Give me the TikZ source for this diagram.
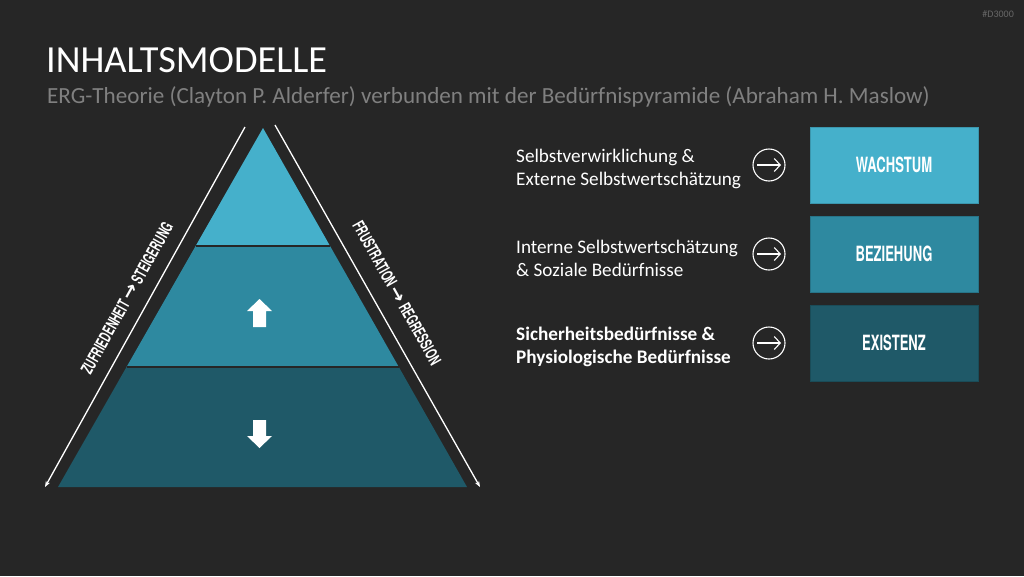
\documentclass[tikz,border=0pt]{standalone}
\usepackage{fontspec}
\setmainfont{Carlito}
\newfontfamily\condfont[FakeStretch=0.62]{TeX Gyre Heros}
\newfontfamily\symfont{DejaVu Sans}
\usetikzlibrary{arrows.meta, calc}

\definecolor{bg}{HTML}{262626}
\definecolor{toplayer}{HTML}{45B0CB}
\definecolor{midlayer}{HTML}{2E89A0}
\definecolor{botlayer}{HTML}{1F5968}
\definecolor{subgray}{HTML}{808080}

\tikzset{
  boxlabel/.style={minimum width=168pt, minimum height=76pt, inner sep=0pt, text=white,
    font=\condfont\bfseries\fontsize{21}{21}\selectfont},
  icon/.style={circle, draw=white, line width=1.1pt, minimum size=32pt, inner sep=0pt},
  desc/.style={anchor=west, align=left, text=white, inner sep=0pt,
    font=\fontsize{19.2}{23}\selectfont},
  sidetext/.style={text=white, inner sep=0pt,
    font=\condfont\bfseries\fontsize{16.5}{16.5}\selectfont},
  sidearrow/.style={white, line width=1.3pt, -{Stealth[length=6pt,width=4.5pt]}},
}

\begin{document}
\begin{tikzpicture}[x=1pt, y=-1pt]
    % Background
    \fill[bg] (0,0) rectangle (1024,576);
    \useasboundingbox (0,0) rectangle (1024,576);

    % Title
    \node[anchor=base west, inner sep=0pt, text=white, font=\fontsize{38.3}{38.3}\selectfont]
        (title) at (46,72) {INHALTSMODELLE};
    \node[anchor=base west, inner sep=0pt, text=subgray, font=\fontsize{23.1}{23.1}\selectfont]
        (subtitle) at (47,103) {ERG-Theorie (Clayton P. Alderfer) verbunden mit der Bedürfnispyramide (Abraham H. Maslow)};
    \node[anchor=base east, inner sep=0pt, text=white!30!bg, font=\fontsize{10}{10}\selectfont]
        (code) at (1014,17) {\#D3000};

    % Pyramid
    \coordinate (apex) at (263,128);
    \coordinate (bl) at (58,487);
    \coordinate (br) at (467,487);
    \coordinate (l1) at ($(apex)!0.3287!(bl)$);
    \coordinate (r1) at ($(apex)!0.3287!(br)$);
    \coordinate (l2) at ($(apex)!0.6657!(bl)$);
    \coordinate (r2) at ($(apex)!0.6657!(br)$);
    \fill[toplayer] (apex) -- (l1) -- (r1) -- cycle;
    \fill[midlayer] (l1) -- (l2) -- (r2) -- (r1) -- cycle;
    \fill[botlayer] (l2) -- (bl) -- (br) -- (r2) -- cycle;
    \draw[bg, line width=2.5pt] (l1) -- (r1) (l2) -- (r2);

    % Up and down arrows
    \coordinate (up) at (259.5,299);
    \coordinate (down) at (259.5,448);
    \fill[white, shift={(up)}] (0,0) -- (12.5,12) -- (6.5,12) -- (6.5,28) -- (-6.5,28) -- (-6.5,12) -- (-12.5,12) -- cycle;
    \fill[white, shift={(down)}] (0,0) -- (12.5,-12) -- (6.5,-12) -- (6.5,-28) -- (-6.5,-28) -- (-6.5,-12) -- (-12.5,-12) -- cycle;

    % Side arrows
    \coordinate (ltop) at (245,127);
    \coordinate (lbot) at (45,487);
    \coordinate (rtop) at (275,125);
    \coordinate (rbot) at (480,487);
    \draw[sidearrow] (ltop) -- (lbot);
    \draw[sidearrow] (rtop) -- (rbot);
    \node[sidetext, rotate=60.9] (grow) at (127,298) {ZUFRIEDENHEIT {\symfont\fontsize{19}{19}\selectfont→} STEIGERUNG};
    \node[sidetext, rotate=-60.6] (fall) at (397,293) {FRUSTRATION {\symfont\fontsize{19}{19}\selectfont→} REGRESSION};

    % Needs, icons and ERG boxes
    \foreach \y/\col/\lab/\txt [count=\i] in {
        165/toplayer/WACHSTUM/{Selbstverwirklichung \&\\Externe Selbstwertschätzung},
        254/midlayer/BEZIEHUNG/{Interne Selbstwertschätzung\\\& Soziale Bedürfnisse},
        343/botlayer/EXISTENZ/{\bfseries Sicherheitsbedürfnisse \&\\\bfseries Physiologische Bedürfnisse}} {
        \node[desc] (desc\i) at (516,\y+4) {\txt};
        \node[icon] (icon\i) at (769,\y) {};
        \draw[white, line width=1.1pt, -{Straight Barb[length=6pt,width=13pt]}]
            ([xshift=-12pt]icon\i.center) -- ([xshift=12pt]icon\i.center);
        \node[boxlabel, fill=\col, draw=\col!85!black, line width=0.8pt] (box\i) at (894,\y) {\lab};
    }
\end{tikzpicture}
\end{document}
